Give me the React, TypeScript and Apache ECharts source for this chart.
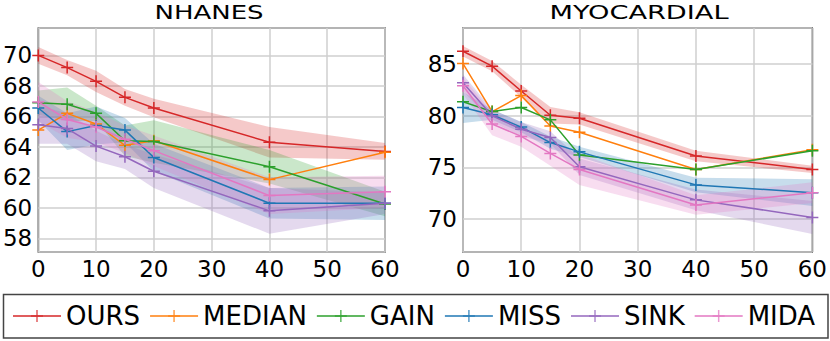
import React, { useEffect, useRef } from "react";
import * as echarts from "echarts";

const X = [0, 5, 10, 15, 20, 40, 60];
const NAMES = ["OURS", "MEDIAN", "GAIN", "MISS", "SINK", "MIDA"];
const COLORS = ["#d62728", "#ff7f0e", "#2ca02c", "#1f77b4", "#9467bd", "#e377c2"];
const BAND_COLORS = [
  "rgba(214,39,40,0.25)",
  "rgba(255,127,14,0.25)",
  "rgba(44,160,44,0.25)",
  "rgba(31,119,180,0.25)",
  "rgba(148,103,189,0.25)",
  "rgba(227,119,194,0.25)",
];

// NHANES
const nhOURS = [70.0, 69.2, 68.3, 67.25, 66.55, 64.3, 63.7];
const nhMEDIAN = [65.1, 66.2, 65.5, 64.1, 64.4, 61.85, 63.65];
const nhGAIN = [66.9, 66.8, 66.2, 64.4, 64.35, 62.7, 60.25];
const nhMISS = [66.55, 65.0, 65.4, 65.1, 63.3, 60.3, 60.3];
const nhSINK = [65.45, 65.2, 64.05, 63.35, 62.4, 59.8, 60.3];
const nhMIDA = [66.95, 65.8, 65.3, 64.5, 63.75, 60.8, 61.05];

const nhOURSband = [0.55, 0.5, 0.7, 0.55, 0.6, 1.0, 0.55];
const nhMEDIANband = [0, 0, 0, 0, 0, 0, 0];
const nhGAINband = [0.8, 1.1, 0.5, 1.0, 1.4, 1.1, 0.8];
const nhMISSband = [0.8, 1.2, 1.25, 0.8, 0.9, 1.0, 1.1];
const nhSINKband = [1.25, 1.0, 1.0, 0.8, 1.1, 1.5, 0.7];
const nhMIDAband = [1.3, 1.2, 1.0, 0.9, 1.0, 1.2, 1.05];

// MYOCARDIAL
const myOURS = [86.25, 84.8, 82.4, 80.05, 79.75, 76.1, 74.8];
const myMEDIAN = [85.05, 80.4, 81.95, 79.0, 78.4, 74.8, 76.7];
const myGAIN = [81.35, 80.4, 80.8, 79.6, 76.2, 74.8, 76.6];
const myMISS = [80.8, 80.1, 78.9, 77.4, 76.5, 73.3, 72.55];
const mySINK = [83.2, 80.0, 78.7, 77.9, 75.05, 71.85, 70.15];
const myMIDA = [82.9, 79.2, 78.0, 76.35, 74.8, 71.35, 72.55];

const myOURSband = [0.5, 0.5, 0.6, 0.8, 0.6, 0.5, 0.35];
const myMEDIANband = [0, 0, 0, 0, 0, 0, 0];
const myGAINband = [0, 0, 0, 0, 0, 0, 0];
const myMISSband = [1.5, 0.5, 0.5, 0.6, 0.5, 0.7, 1.3];
const mySINKband = [0.8, 0.6, 0.7, 0.6, 0.8, 1.0, 1.6];
const myMIDAband = [0.8, 1.1, 1.0, 1.2, 1.5, 0.95, 1.0];

const NH_VALUES = [nhOURS, nhMEDIAN, nhGAIN, nhMISS, nhSINK, nhMIDA];
const NH_BANDS = [nhOURSband, nhMEDIANband, nhGAINband, nhMISSband, nhSINKband, nhMIDAband];
const MY_VALUES = [myOURS, myMEDIAN, myGAIN, myMISS, mySINK, myMIDA];
const MY_BANDS = [myOURSband, myMEDIANband, myGAINband, myMISSband, mySINKband, myMIDAband];

const PLUS = "path://M7,0H9V7H16V9H9V16H7V9H0V7H7Z";
const FONT = "DejaVu Sans";

function bandSeries(k: number, mean: number[], half: number[], gi: number) {
  return {
    type: "custom",
    name: NAMES[k] + " band " + gi,
    xAxisIndex: gi,
    yAxisIndex: gi,
    silent: true,
    z: 1,
    data: [[0, mean[0]]],
    renderItem: (params: any, api: any) => {
      const upper = X.map((x, i) => api.coord([x, mean[i] + half[i]]));
      const lower = X.map((x, i) => api.coord([x, mean[i] - half[i]])).reverse();
      return {
        type: "polygon",
        shape: { points: upper.concat(lower) },
        style: { fill: BAND_COLORS[k] },
      };
    },
  };
}

function lineSeries(k: number, vals: number[], gi: number) {
  return {
    type: "line",
    name: NAMES[k],
    xAxisIndex: gi,
    yAxisIndex: gi,
    data: X.map((x, i) => [x, vals[i]]),
    symbol: PLUS,
    symbolSize: 12,
    showAllSymbol: true,
    lineStyle: { width: 1.5, color: COLORS[k] },
    itemStyle: { color: COLORS[k] },
    z: 3 + k,
  };
}

function intLabel(v: number) {
  return Math.abs(v - Math.round(v)) < 1e-6 ? String(Math.round(v)) : "";
}

export default function App() {
  const ref = useRef<HTMLDivElement>(null);
  useEffect(() => {
    document.body.style.margin = "0";
    const chart = echarts.init(ref.current!, null, { renderer: "svg" });
    const grids = [
      { left: 33, top: 28, width: 352, height: 224 },
      { left: 463, top: 28, width: 352, height: 224 },
    ];
    const ylims = [
      { min: 57.1, max: 71.8, split: 7 },
      { min: 66.8, max: 88.5, split: 4 },
    ];
    const series: any[] = [];
    [NH_BANDS, MY_BANDS].forEach((bands, gi) => {
      const vals = gi === 0 ? NH_VALUES : MY_VALUES;
      bands.forEach((b, k) => {
        if (b.some((v) => v > 0)) series.push(bandSeries(k, vals[k], b, gi));
      });
    });
    [NH_VALUES, MY_VALUES].forEach((vals, gi) => {
      vals.forEach((v, k) => series.push(lineSeries(k, v, gi)));
    });

    chart.setOption({
      animation: false,
      backgroundColor: "#fff",
      grid: grids.map((g) => ({
        ...g,
        show: true,
        borderColor: "#333",
        borderWidth: 1.3,
        backgroundColor: "transparent",
      })),
      xAxis: grids.map((_, gi) => ({
        type: "value",
        gridIndex: gi,
        min: 0,
        max: 60,
        interval: 10,
        axisLine: { show: false },
        axisTick: { show: false },
        axisLabel: { fontSize: 23, fontFamily: FONT, color: "#000", margin: 5 },
        splitLine: { show: true, lineStyle: { color: "#cfcfcf", width: 1.5 } },
      })),
      yAxis: ylims.map((l, gi) => ({
        type: "value",
        gridIndex: gi,
        min: l.min,
        max: l.max,
        splitNumber: l.split,
        axisLine: { show: false },
        axisTick: { show: false },
        axisLabel: {
          fontSize: 23,
          fontFamily: FONT,
          color: "#000",
          margin: 6,
          showMinLabel: false,
          showMaxLabel: false,
          formatter: intLabel,
        },
        splitLine: { show: true, lineStyle: { color: "#cfcfcf", width: 1.5 } },
      })),
      legend: {
        data: NAMES,
        left: 12,
        top: 303,
        orient: "horizontal",
        itemWidth: 48,
        itemHeight: 15,
        itemGap: 9,
        padding: 0,
        textStyle: { fontSize: 26, fontFamily: FONT, color: "#000" },
        lineStyle: { opacity: 0.75 },
        itemStyle: { opacity: 0.75 },
      },
      graphic: [
        {
          type: "rect",
          shape: { x: 3.5, y: 294.5, width: 824.5, height: 43.5 },
          style: { fill: "none", stroke: "#444", lineWidth: 1.5 },
          silent: true,
        },
        {
          type: "text",
          x: 209,
          y: 12,
          scaleX: 1.3,
          style: {
            text: "NHANES",
            fontSize: 20,
            fontFamily: FONT,
            fill: "#000",
            align: "center",
            verticalAlign: "middle",
          },
        },
        {
          type: "text",
          x: 639,
          y: 12,
          scaleX: 1.36,
          style: {
            text: "MYOCARDIAL",
            fontSize: 20,
            fontFamily: FONT,
            fill: "#000",
            align: "center",
            verticalAlign: "middle",
          },
        },
      ],
      series,
    });
    return () => chart.dispose();
  }, []);
  return <div ref={ref} style={{ width: 830, height: 341 }} />;
}
